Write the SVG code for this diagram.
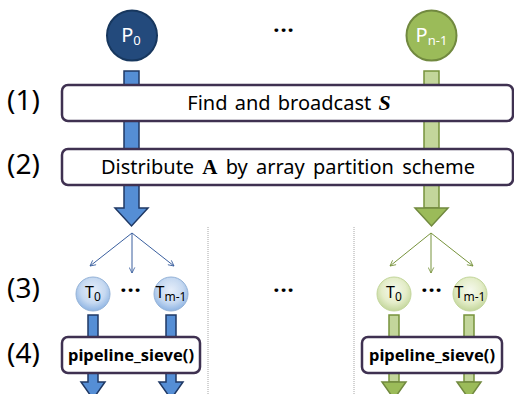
<svg xmlns="http://www.w3.org/2000/svg" width="514" height="394" viewBox="0 0 514 394">
<defs>
<radialGradient id="gb" cx="50%" cy="40%" r="60%"><stop offset="0" stop-color="#e6eefa"/><stop offset="0.6" stop-color="#c6d9f1"/><stop offset="1" stop-color="#8eb4e3"/></radialGradient>
<radialGradient id="gg" cx="50%" cy="40%" r="60%"><stop offset="0" stop-color="#f6f9ee"/><stop offset="0.6" stop-color="#e4edc9"/><stop offset="1" stop-color="#c3d69b"/></radialGradient>
<marker id="ab" viewBox="0 0 10 10" refX="9" refY="5" markerWidth="7" markerHeight="7" orient="auto-start-reverse" markerUnits="userSpaceOnUse"><path d="M1,1 L9,5 L1,9" fill="none" stroke="#3a5f9e" stroke-width="1.2"/></marker>
<marker id="ag" viewBox="0 0 10 10" refX="9" refY="5" markerWidth="7" markerHeight="7" orient="auto-start-reverse" markerUnits="userSpaceOnUse"><path d="M1,1 L9,5 L1,9" fill="none" stroke="#77933c" stroke-width="1.2"/></marker>
</defs>
<style>
text{font-family:"Noto Sans","Liberation Sans",sans-serif;}
.box{fill:#fff;stroke:#3f3151;stroke-width:2.5;}
.lbl{font-size:28px;fill:#000;}
.t{font-size:20px;fill:#000;}
.pipe{font-size:16.5px;font-weight:bold;fill:#000;}
.bs{fill:#558ed5;stroke:#1f3864;stroke-width:1.5;}
.gs{fill:#c3d69b;stroke:#77933c;stroke-width:1.5;}
.gh{fill:#9bbb59;stroke:#71893f;stroke-width:1.5;}
.fb{stroke:#3a5f9e;stroke-width:1;fill:none;marker-end:url(#ab);}
.fg{stroke:#77933c;stroke-width:1;fill:none;marker-end:url(#ag);}
.div{stroke:#a6a6a6;stroke-width:1;stroke-dasharray:1 1;}
.dots{font-size:22px;fill:#000;font-weight:bold;letter-spacing:1px;}
.ct{font-size:16px;fill:#000;}
</style>
<g id="connectors">
<path class="bs" d="M124,71 H139 V208 H148 L131.5,226 L115,208 H124 Z"/>
<path class="gs" d="M424,71 H439 V208 H424 Z"/>
<path class="gh" d="M424,208 H439 H448 L431.5,226 L415,208 Z"/>
<line class="fb" x1="132" y1="233" x2="90" y2="266"/>
<line class="fb" x1="132" y1="233" x2="132" y2="273"/>
<line class="fb" x1="132" y1="233" x2="174" y2="266"/>
<line class="fg" x1="431" y1="233" x2="390" y2="266"/>
<line class="fg" x1="431" y1="233" x2="431" y2="273"/>
<line class="fg" x1="431" y1="233" x2="473" y2="266"/>
<path class="bs" d="M88,315 H98 V382 H105 L93,399 L81,382 H88 Z"/>
<path class="bs" d="M166,315 H176 V382 H183 L171,399 L159,382 H166 Z"/>
<path class="gs" d="M389,315 H399 V382 H389 Z"/>
<path class="gh" d="M389,382 H406 L394,399 L382,382 Z"/>
<path class="gs" d="M464,315 H474 V382 H464 Z"/>
<path class="gh" d="M464,382 H481 L469,399 L457,382 Z"/>
<line class="div" x1="208" y1="227" x2="208" y2="394"/>
<line class="div" x1="354" y1="227" x2="354" y2="394"/>
</g>
<g id="P0"><circle cx="132" cy="35.5" r="25" fill="#234a7c" stroke="#17375e" stroke-width="2"/><text x="131" y="42" text-anchor="middle" fill="#fff" font-size="20">P<tspan font-size="13" dy="3">0</tspan></text></g>
<g id="Pn1"><circle cx="431.5" cy="35.5" r="25" fill="#9bbb59" stroke="#71893f" stroke-width="2"/><text x="431.5" y="42" text-anchor="middle" fill="#fff" font-size="20">P<tspan font-size="13" dy="3">n-1</tspan></text></g>
<g id="topdots"><text class="dots" x="284" y="38" text-anchor="middle">···</text></g>
<g id="label1"><text class="lbl" x="7" y="110">(1)</text></g>
<g id="label2"><text class="lbl" x="7" y="174">(2)</text></g>
<g id="label3"><text class="lbl" x="7" y="298">(3)</text></g>
<g id="label4"><text class="lbl" x="7" y="363">(4)</text></g>
<g id="step1"><rect class="box" x="62" y="85" width="451" height="36" rx="6"/><text class="t" x="289" y="110" text-anchor="middle" word-spacing="2">Find and broadcast <tspan font-family="Liberation Serif,serif" font-weight="bold" font-style="italic" font-size="22">S</tspan></text></g>
<g id="step2"><rect class="box" x="62" y="149" width="451" height="36" rx="6"/><text class="t" x="288" y="174" text-anchor="middle" word-spacing="3">Distribute <tspan font-family="Liberation Serif,serif" font-weight="bold" font-size="21">A</tspan> by array partition scheme</text></g>
<g id="T0b"><circle cx="93" cy="294" r="17" fill="url(#gb)" stroke="#95b3d7" stroke-width="1"/><text class="ct" x="93" y="298" text-anchor="middle">T<tspan font-size="12" dy="3">0</tspan></text></g>
<g id="Tm1b"><circle cx="171" cy="294" r="17" fill="url(#gb)" stroke="#95b3d7" stroke-width="1"/><text class="ct" x="171" y="298" text-anchor="middle">T<tspan font-size="12" dy="3">m-1</tspan></text></g>
<g id="dotsb"><text class="dots" x="131" y="298" text-anchor="middle">···</text></g>
<g id="middots"><text class="dots" x="284" y="298" text-anchor="middle">···</text></g>
<g id="T0g"><circle cx="394" cy="294" r="17" fill="url(#gg)" stroke="#c3d69b" stroke-width="1"/><text class="ct" x="394" y="298" text-anchor="middle">T<tspan font-size="12" dy="3">0</tspan></text></g>
<g id="Tm1g"><circle cx="470" cy="294" r="17" fill="url(#gg)" stroke="#c3d69b" stroke-width="1"/><text class="ct" x="470" y="298" text-anchor="middle">T<tspan font-size="12" dy="3">m-1</tspan></text></g>
<g id="dotsg"><text class="dots" x="432" y="298" text-anchor="middle">···</text></g>
<g id="pipeb"><rect class="box" x="62" y="337" width="138" height="36" rx="6"/><text class="pipe" x="131" y="361" text-anchor="middle">pipeline_sieve()</text></g>
<g id="pipeg"><rect class="box" x="362" y="337" width="140" height="36" rx="6"/><text class="pipe" x="432" y="361" text-anchor="middle">pipeline_sieve()</text></g>
</svg>
